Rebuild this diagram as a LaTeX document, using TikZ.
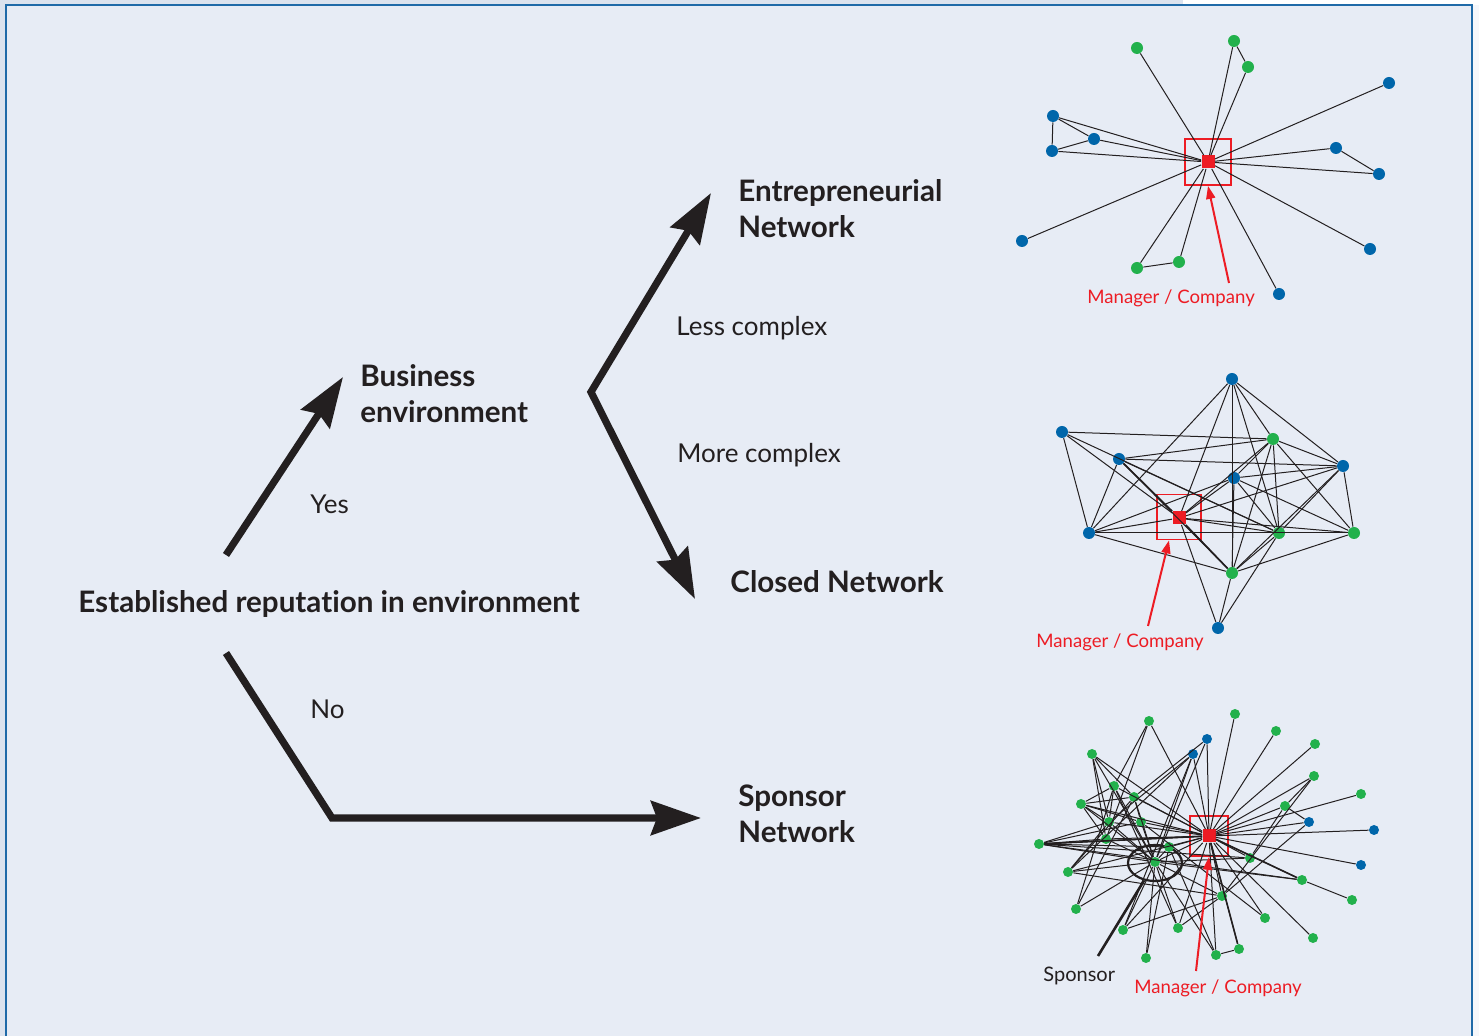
\documentclass[tikz,border=0pt]{standalone}
\usepackage{fontspec}
\setmainfont{Lato}[Ligatures={NoCommon}]
\usetikzlibrary{arrows.meta,shapes.geometric,calc}
\definecolor{bgout}{RGB}{220,227,238}
\definecolor{panel}{RGB}{231,236,245}
\definecolor{frame}{RGB}{31,106,168}
\definecolor{dotblue}{RGB}{0,102,170}
\definecolor{dotgreen}{RGB}{34,177,76}
\definecolor{mred}{RGB}{237,28,36}
\definecolor{ink}{RGB}{35,31,32}
\tikzset{
  bigarrow/.style={draw=ink,line width=3.6pt,miter limit=20,-{Stealth[length=25pt,width=17pt,inset=3pt]}},
  bigarrowboth/.style={draw=ink,line width=3.6pt,miter limit=20,{Stealth[length=25pt,width=17pt,inset=3pt]}-{Stealth[length=25pt,width=17pt,inset=3pt]}},
  boldlbl/.style={font=\fontsize{14.8}{18}\selectfont\bfseries,text=ink,inner sep=0pt,align=left},
  reglbl/.style={font=\fontsize{13}{16}\selectfont,text=ink,inner sep=0pt},
  redlbl/.style={font=\fontsize{9.3}{12}\selectfont,text=mred,inner sep=0pt},
  smalllbl/.style={font=\fontsize{10}{12}\selectfont,text=ink,inner sep=0pt},
  bd/.style={circle,fill=dotblue,inner sep=0pt,minimum size=6pt},
  gd/.style={circle,fill=dotgreen,inner sep=0pt,minimum size=6pt},
  bds/.style={circle,fill=dotblue,inner sep=0pt,minimum size=5pt},
  gds/.style={circle,fill=dotgreen,inner sep=0pt,minimum size=5pt},
  ctr/.style={rectangle,fill=mred,inner sep=0pt,minimum size=6.5pt},
  ctrbox/.style={rectangle,draw=mred,line width=0.9pt,inner sep=0pt,minimum width=23pt,minimum height=23pt},
  edge/.style={draw=ink,line width=0.5pt},
  redarrow/.style={draw=mred,line width=1pt,-{Triangle[length=6.5pt,width=4.5pt]}},
}
\begin{document}
\begin{tikzpicture}[x=0.5pt,y=-0.5pt]
\useasboundingbox (0,0) rectangle (1479,1036);
% background
\fill[bgout] (0,0) rectangle (1479,1036);
\fill[white] (1183,0) rectangle (1479,5);
\fill[white!60!panel] (1472,5) rectangle (1479,1036);
\fill[panel] (6,5) rectangle (1472,1040);
\draw[frame,line width=1pt] (6,1040) -- (6,5) -- (1472,5) -- (1472,1040);

% ---------- left tree ----------
\node[boldlbl,anchor=west] (est) at (78,604) {Established reputation in environment};
\node[boldlbl,anchor=west] (bus) at (360,394) {Business\\environment};
\node[boldlbl,anchor=west] (ent) at (738,209) {Entrepreneurial\\Network};
\node[boldlbl,anchor=west] (clo) at (730,582) {Closed Network};
\node[boldlbl,anchor=west] (spn) at (738,814) {Sponsor\\Network};
\node[reglbl,anchor=west] (yes) at (310,504) {Yes};
\node[reglbl,anchor=west] (no) at (310,709) {No};
\node[reglbl,anchor=west] (less) at (676,328) {Less complex};
\node[reglbl,anchor=west] (more) at (677,455) {More complex};

\coordinate (yesS) at (226,555);
\coordinate (yesT) at (343,377);
\coordinate (brV) at (591,392);
\coordinate (brT1) at (711,193);
\coordinate (brT2) at (695,599);
\coordinate (noS) at (226,653);
\coordinate (noV) at (332,818);
\coordinate (noT) at (701,818);
\draw[bigarrow] (yesS) -- (yesT);
\draw[bigarrowboth] (brT1) -- (brV) -- (brT2);
\draw[bigarrow] (noS) -- (noV) -- (noT);

% ---------- network 1 ----------
\node[ctr] (c1) at (1208,162) {};
\node[ctrbox] (c1box) at (1208,162) {};
\node[gd] (a1) at (1137,48) {};
\node[gd] (a2) at (1234,41) {};
\node[gd] (a3) at (1248,67) {};
\node[bd] (a4) at (1389,83) {};
\node[bd] (a5) at (1053,116) {};
\node[bd] (a6) at (1094,139) {};
\node[bd] (a7) at (1052,151) {};
\node[bd] (a8) at (1336,148) {};
\node[bd] (a9) at (1379,174) {};
\node[bd] (a10) at (1022,241) {};
\node[bd] (a11) at (1370,249) {};
\node[gd] (a12) at (1137,268) {};
\node[gd] (a13) at (1179,262) {};
\node[bd] (a14) at (1279,294) {};
\foreach \n in {a1,a2,a3,a4,a5,a6,a7,a8,a9,a10,a11,a12,a13,a14} {\draw[edge] (c1) -- (\n);}
\draw[edge] (a2) -- (a3);
\draw[edge] (a5) -- (a6);
\draw[edge] (a5) -- (a7);
\draw[edge] (a7) -- (a6);
\draw[edge] (a8) -- (a9);
\draw[edge] (a12) -- (a13);
\node[redlbl,anchor=west] (m1) at (1087,298) {Manager / Company};
\coordinate (m1t) at (1229,283);
\draw[redarrow] (m1t) -- (c1box.south);

% ---------- network 2 ----------
\node[ctr] (c2) at (1179,518) {};
\node[ctrbox,minimum width=22pt,minimum height=22.5pt] (c2box) at (1179,517) {};
\node[bd] (t) at (1232,379) {};
\node[bd] (l1) at (1062,432) {};
\node[gd] (g1) at (1273,439) {};
\node[bd] (l2) at (1119,459) {};
\node[bd] (r1) at (1343,466) {};
\node[bd] (bc) at (1234,478) {};
\node[bd] (l3) at (1089,533) {};
\node[gd] (g2) at (1279,533) {};
\node[gd] (g3) at (1354,533) {};
\node[gd] (g4) at (1232,573) {};
\node[bd] (bb) at (1218,628) {};
\foreach \a/\b in {t/l3,t/c2,t/g4,t/g2,t/g1,t/r1,
  l1/g1,l1/l3,l1/c2,l1/g2,
  l2/g1,l2/r1,l2/c2,l2/g4,l2/l3,l2/g2,
  l3/bc,l3/g2,l3/g3,l3/g4,l3/c2,
  c2/g1,c2/g2,c2/g3,c2/r1,c2/g4,c2/bb,c2/bc,
  g1/g2,g1/g4,g1/g3,g1/r1,g1/bc,
  r1/bc,r1/g2,r1/g3,r1/g4,
  bc/g2,bc/g4,bc/g3,
  g2/g4,g2/bb,g4/bb,g4/g3} {\draw[edge] (\a) -- (\b);}
\draw[edge,line width=0.8pt] (l2) -- (c2);
\draw[edge,line width=0.8pt] (c2) -- (g4);
\node[redlbl,anchor=west] (m2) at (1036,642) {Manager / Company};
\coordinate (m2t) at (1148,626);
\draw[redarrow] (m2t) -- ($(c2box.south)+(-10,0)$);

% ---------- network 3 ----------
\node[ctr] (c3) at (1209,836) {};
\node[ctrbox,minimum width=19pt,minimum height=20pt] (c3box) at (1209,836) {};
\node[gds] (sp) at (1155,862) {};
\node[ellipse,draw=ink,line width=1.1pt,minimum width=27pt,minimum height=18pt,inner sep=0pt] (spell) at (1155,863) {};
\node[gds] (s1) at (1149,721) {};
\node[gds] (s2) at (1235,714) {};
\node[bds] (s3) at (1207,739) {};
\node[bds] (s4) at (1193,754) {};
\node[gds] (s5) at (1276,731) {};
\node[gds] (s6) at (1315,744) {};
\node[gds] (s7) at (1092,754) {};
\node[gds] (s8) at (1314,776) {};
\node[gds] (s9) at (1114,786) {};
\node[gds] (s10) at (1134,797) {};
\node[gds] (s11) at (1081,804) {};
\node[gds] (s12) at (1361,794) {};
\node[gds] (s13) at (1285,806) {};
\node[gds] (s14) at (1109,822) {};
\node[gds] (s15) at (1141,822) {};
\node[bds] (s16) at (1309,822) {};
\node[bds] (s17) at (1374,830) {};
\node[gds] (s18) at (1106,839) {};
\node[gds] (s19) at (1039,844) {};
\node[gds] (s20) at (1169,847) {};
\node[gds] (s21) at (1250,858) {};
\node[bds] (s22) at (1361,865) {};
\node[gds] (s23) at (1068,872) {};
\node[gds] (s24) at (1302,880) {};
\node[gds] (s25) at (1222,896) {};
\node[gds] (s26) at (1352,900) {};
\node[gds] (s27) at (1076,909) {};
\node[gds] (s28) at (1265,918) {};
\node[gds] (s29) at (1123,930) {};
\node[gds] (s30) at (1178,928) {};
\node[gds] (s31) at (1313,938) {};
\node[gds] (s32) at (1239,949) {};
\node[gds] (s33) at (1216,955) {};
\node[gds] (s34) at (1146,958) {};
\foreach \n in {s1,s2,s3,s4,s5,s6,s8,s12,s13,s16,s17,s22,s21,s24,s25,s28,s31,s32,s33,s7,s10,s11,s14,s15,s18,s19,s20,sp,s23,s29,s30,s9} {\draw[edge] (c3) -- (\n);}
\foreach \n in {s7,s9,s10,s11,s14,s15,s18,s19,s20,s23,s27,s29,s30,s34,s25,s33,s4,s3,s21,s24} {\draw[edge] (sp) -- (\n);}
\foreach \a/\b in {s1/s18,s1/s9,s7/s14,s7/s18,s7/s10,s9/s11,s9/s14,s10/s11,s10/s15,s11/s14,s11/s15,s11/s18,
  s14/s19,s18/s19,s19/s15,s19/s20,s19/s24,s23/s14,s23/s10,s27/s9,s27/s10,s23/s4,s29/s25,s30/s25,
  s34/s20,s32/s33,s33/s20,s28/s15,s25/s8,s24/s26,s13/s16,s16/s25,s13/s21,s8/s13,s4/s29,s3/s10,s4/s14,
  s19/s21,s23/s25,s9/s30} {\draw[edge] (\a) -- (\b);}
\draw[edge,line width=0.8pt] (c3) -- (s24);
\draw[edge,line width=0.8pt] (c3) -- (s32);
\draw[edge,line width=0.8pt] (s19) -- (c3);
\coordinate (spt) at (1098,956);
\draw[draw=ink,line width=1.3pt] (spell.238) -- (spt);
\node[smalllbl,anchor=west] (spl) at (1043,976) {Sponsor};
\node[redlbl,anchor=west] (m3) at (1134,988) {Manager / Company};
\coordinate (m3t) at (1196,971);
\draw[redarrow] (m3t) -- (c3box.south);
\end{tikzpicture}
\end{document}
